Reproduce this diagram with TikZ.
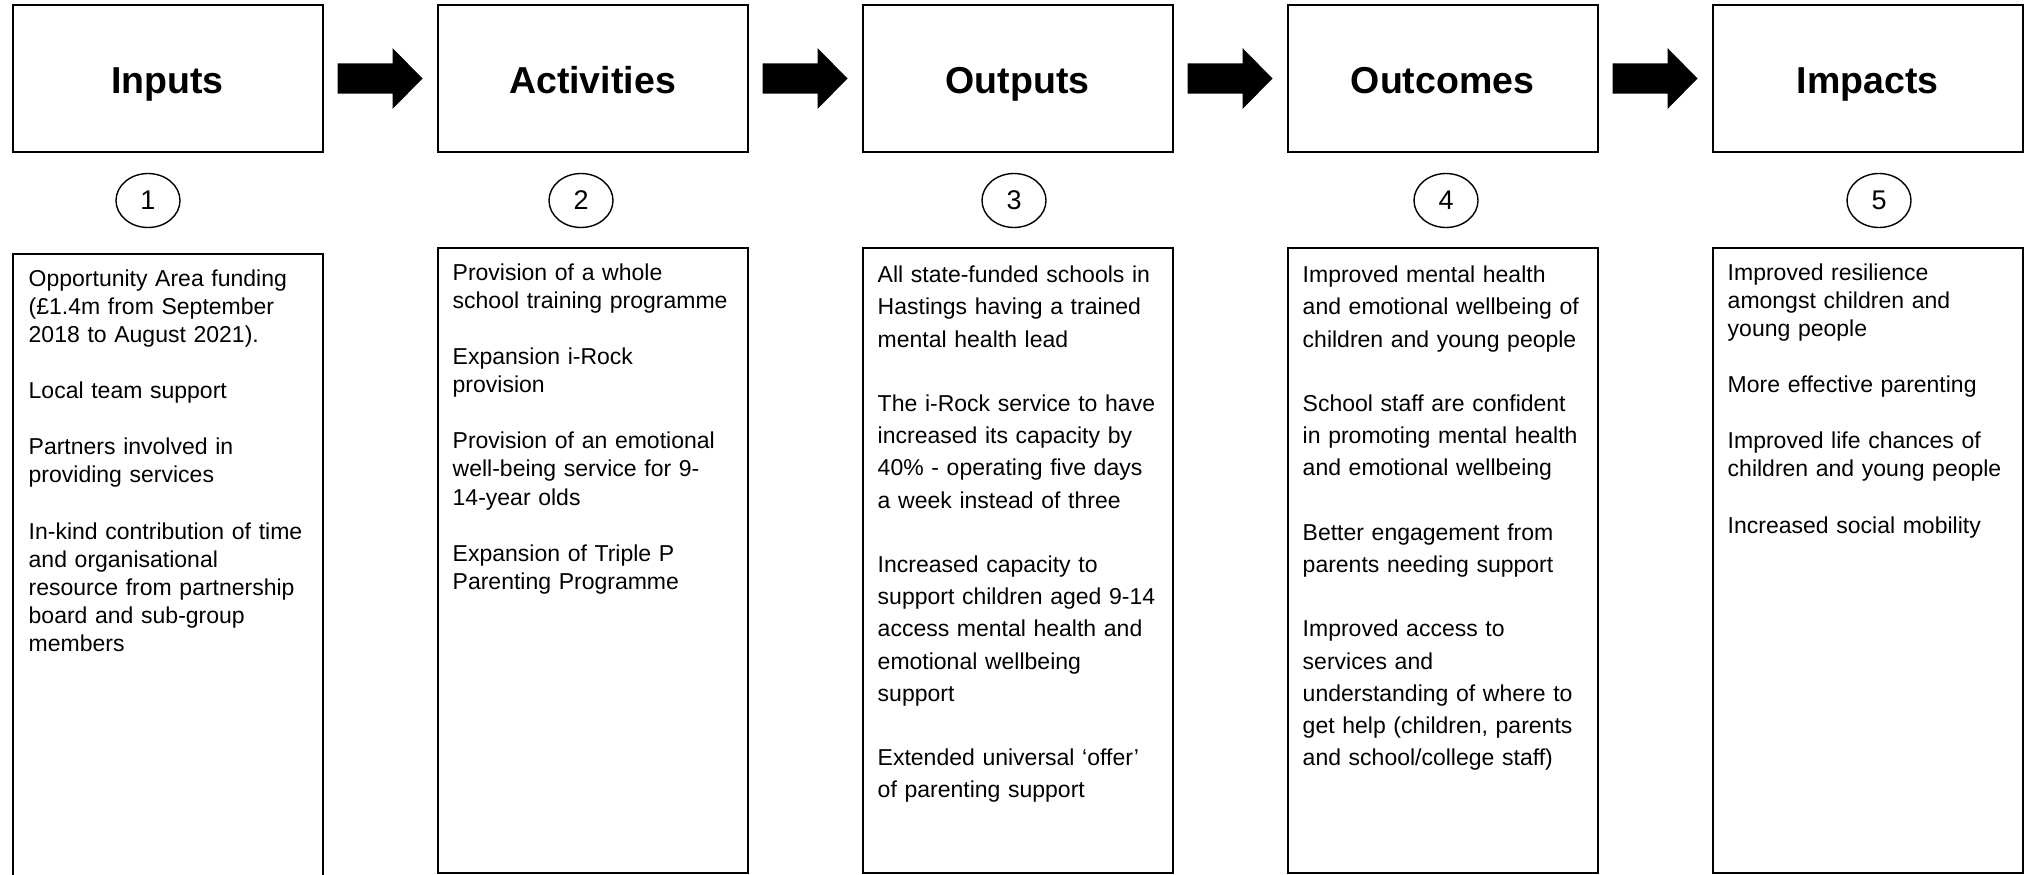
\documentclass[tikz,border=0pt]{standalone}
\usepackage{fontspec}
\setmainfont{Liberation Sans}
\usetikzlibrary{shapes.geometric,calc}

\tikzset{
  titlebox/.style={draw, line width=2pt, minimum width=310pt, minimum height=147pt,
    inner sep=0pt, outer sep=0pt, font=\bfseries\fontsize{37.5}{40}\selectfont,
    text height=30pt, text depth=0pt},
  listbox/.style={draw, line width=2pt, minimum width=310pt, inner sep=0pt,
    outer sep=0pt, anchor=north west},
  numoval/.style={ellipse, draw, line width=1.4pt, minimum width=64pt,
    minimum height=54pt, inner sep=0pt, font=\fontsize{27}{30}\selectfont},
  listtext/.style={anchor=north west, inner sep=0pt, text width=300pt, align=left},
  tight/.style={font=\fontsize{23}{28.1}\selectfont},
  loose/.style={font=\fontsize{23}{32.2}\selectfont},
}

% block arrow between two stage boxes
\newcommand\stagearrow[2]{%
  \fill ($(#1.east)+(15,-15)$) -- ($(#2.west)+(-45,-15)$) -- ($(#2.west)+(-45,-30.5)$)
    -- ($(#2.west)+(-15,0)$) -- ($(#2.west)+(-45,30.5)$) -- ($(#2.west)+(-45,15)$)
    -- ($(#1.east)+(15,15)$) -- cycle;}

\newcommand\firstln{\rule{0pt}{20pt}}

\begin{document}
\begin{tikzpicture}[x=1pt,y=-1pt]
\useasboundingbox (0,0) rectangle (2031,875);
\clip (0,0) rectangle (2031,875);

% stage headings
\node[titlebox] (inputs)     at (167.5,78.5)  {Inputs};
\node[titlebox] (activities) at (592.5,78.5)  {Activities};
\node[titlebox] (outputs)    at (1017.5,78.5) {Outputs};
\node[titlebox] (outcomes)   at (1442.5,78.5) {Outcomes};
\node[titlebox] (impacts)    at (1867.5,78.5) {Impacts};

\stagearrow{inputs}{activities}
\stagearrow{activities}{outputs}
\stagearrow{outputs}{outcomes}
\stagearrow{outcomes}{impacts}

% numbered ovals
\node[numoval] (n1) at (148,200.5)  {1};
\node[numoval] (n2) at (581,200.5)  {2};
\node[numoval] (n3) at (1014,200.5) {3};
\node[numoval] (n4) at (1446,200.5) {4};
\node[numoval] (n5) at (1879,200.5) {5};

% list boxes
\node[listbox, minimum height=660pt] (inlist)  at (12.5,254)   {};
\node[listbox, minimum height=625pt] (actlist) at (437.5,248)  {};
\node[listbox, minimum height=625pt] (outlist) at (862.5,248)  {};
\node[listbox, minimum height=625pt] (ocmlist) at (1287.5,248) {};
\node[listbox, minimum height=625pt] (implist) at (1712.5,248) {};

% list contents
\node[listtext, tight] (intext) at (28.5,266) {\firstln Opportunity Area funding\\
(£1.4m from September\\
2018 to August 2021).\\[28.1pt]
Local team support\\[28.1pt]
Partners involved in\\
providing services\\[28.1pt]
In-kind contribution of time\\
and organisational\\
resource from partnership\\
board and sub-group\\
members};

\node[listtext, tight] (acttext) at (452.5,260) {\firstln Provision of a whole\\
school training programme\\[28.1pt]
Expansion i-Rock\\
provision\\[28.1pt]
Provision of an emotional\\
well-being service for 9-\\
14-year olds\\[28.1pt]
Expansion of Triple P\\
Parenting Programme};

\node[listtext, loose] (outtext) at (877.5,262.5) {\firstln All state-funded schools in\\
Hastings having a trained\\
mental health lead\\[32.2pt]
The i-Rock service to have\\
increased its capacity by\\
40\% - operating five days\\
a week instead of three\\[32.2pt]
Increased capacity to\\
support children aged 9-14\\
access mental health and\\
emotional wellbeing\\
support\\[32.2pt]
Extended universal ‘offer’\\
of parenting support};

\node[listtext, loose] (ocmtext) at (1302.5,262.5) {\firstln Improved mental health\\
and emotional wellbeing of\\
children and young people\\[32.2pt]
School staff are confident\\
in promoting mental health\\
and emotional wellbeing\\[32.2pt]
Better engagement from\\
parents needing support\\[32.2pt]
Improved access to\\
services and\\
understanding of where to\\
get help (children, parents\\
and school/college staff)};

\node[listtext, tight] (imptext) at (1727.5,260) {\firstln Improved resilience\\
amongst children and\\
young people\\[28.1pt]
More effective parenting\\[28.1pt]
Improved life chances of\\
children and young people\\[28.1pt]
Increased social mobility};
\end{tikzpicture}
\end{document}
